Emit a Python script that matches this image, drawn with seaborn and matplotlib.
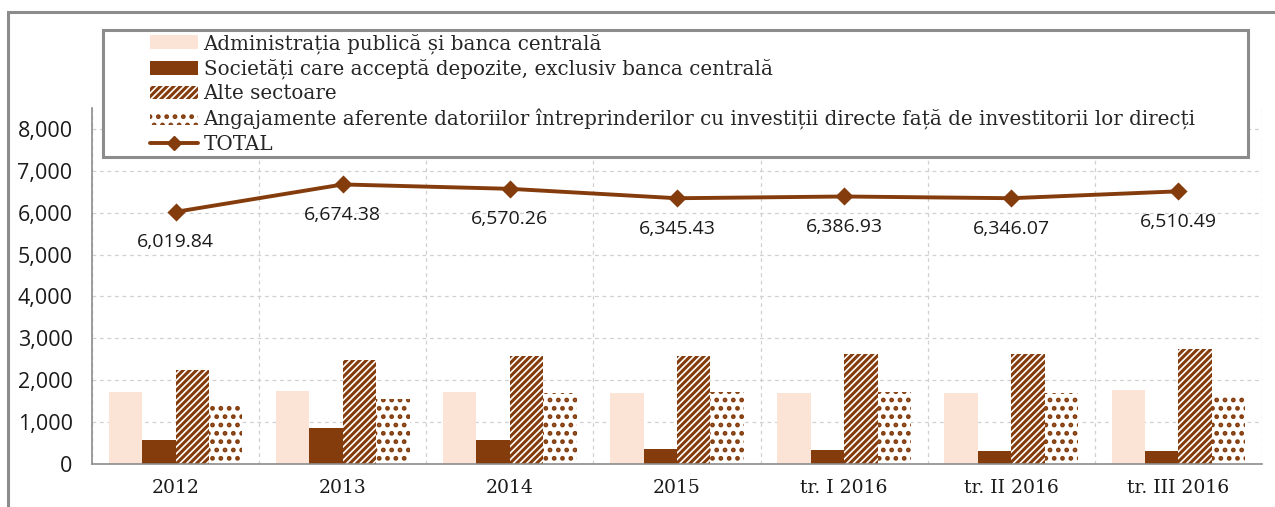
import matplotlib
matplotlib.use("Agg")
import matplotlib.pyplot as plt
import seaborn as sns
import pandas as pd
import numpy as np
from matplotlib.patches import Patch, Rectangle
from matplotlib.lines import Line2D

# Date (mil. USD)
perioade = ["2012", "2013", "2014", "2015", "tr. I 2016", "tr. II 2016", "tr. III 2016"]
administratie = [1730, 1750, 1710, 1700, 1700, 1700, 1770]
societati = [580, 850, 580, 350, 340, 320, 300]
alte_sectoare = [2250, 2480, 2570, 2590, 2630, 2630, 2740]
angajamente = [1450, 1560, 1700, 1710, 1720, 1690, 1680]
total = [6019.84, 6674.38, 6570.26, 6345.43, 6386.93, 6346.07, 6510.49]

serii = [
    "Administrația publică și banca centrală",
    "Societăți care acceptă depozite, exclusiv banca centrală",
    "Alte sectoare",
    "Angajamente aferente datoriilor întreprinderilor cu investiții directe față de investitorii lor direcți",
]

MARO = "#843C0C"
ROZ = "#FBE4D5"
GRI = "#8C8C8C"

sns.set_style("white")
plt.rcParams["font.family"] = ["Open Sans", "DejaVu Sans"]
plt.rcParams["hatch.linewidth"] = 2.2

df = pd.DataFrame({
    "perioada": perioade * 4,
    "sector": np.repeat(serii, len(perioade)),
    "valoare": administratie + societati + alte_sectoare + angajamente,
})

fig = plt.figure(figsize=(12.75, 5.07), dpi=100)
ax = fig.add_axes([0.0722, 0.0848, 0.9176, 0.7022])

sns.barplot(data=df, x="perioada", y="valoare", hue="sector", hue_order=serii,
            palette=[ROZ, MARO, "white", "white"], width=0.8, saturation=1,
            errorbar=None, legend=False, ax=ax)

stiluri = [
    dict(facecolor=ROZ, edgecolor=ROZ, hatch=None),
    dict(facecolor=MARO, edgecolor=MARO, hatch=None),
    dict(facecolor="white", edgecolor=MARO, hatch="/////"),
    dict(facecolor="white", edgecolor=MARO, hatch=".."),
]
for cont, st in zip(ax.containers, stiluri):
    for bar in cont:
        bar.set_facecolor(st["facecolor"])
        bar.set_edgecolor(st["edgecolor"])
        bar.set_linewidth(0)
        if st["hatch"]:
            bar.set_hatch(st["hatch"])

sns.pointplot(x=perioade, y=total, color=MARO, markers="D", markersize=7,
              linewidth=2.8, errorbar=None, ax=ax)

for i, v in enumerate(total):
    ax.annotate(f"{v:,.2f}", (i, v), xytext=(0, -22), textcoords="offset points",
                ha="center", va="center", fontsize=14, color="#1a1a1a")

ax.set_ylim(0, 8500)
ax.set_xlim(-0.5, len(perioade) - 0.5)
ax.set_yticks(range(0, 8001, 1000))
ax.set_yticklabels([f"{t:,}" for t in range(0, 8001, 1000)])
ax.set_xlabel("")
ax.set_ylabel("")
ax.set_xticks(np.arange(-0.5, len(perioade), 1), minor=True)
ax.tick_params(axis="x", which="major", length=0, labelsize=13.5, pad=11, colors="#1a1a1a")
for lbl in ax.get_xticklabels():
    lbl.set_family("DejaVu Serif")
ax.tick_params(axis="x", which="minor", length=6, color=GRI, direction="out")
ax.tick_params(axis="y", length=5, labelsize=15.5, colors="#1a1a1a", direction="out", pad=9)
ax.tick_params(axis="y", color=GRI)
ax.grid(axis="y", which="major", linestyle=(0, (3, 3)), color="#d0d0d0", lw=0.9)
ax.grid(axis="x", which="minor", linestyle=(0, (3, 3)), color="#d0d0d0", lw=0.9)
ax.set_axisbelow(True)
for s in ["top", "right"]:
    ax.spines[s].set_visible(False)
for s in ["left", "bottom"]:
    ax.spines[s].set_color(GRI)
    ax.spines[s].set_linewidth(1.2)

# cadrul exterior
fig.add_artist(Rectangle((8 / 1275, -0.1), 1.5, 1 - 12 / 507 + 0.1, transform=fig.transFigure,
                         fill=False, edgecolor=GRI, lw=2.2, zorder=0))

# legenda
handles = [
    Patch(facecolor=ROZ, edgecolor=ROZ, lw=0),
    Patch(facecolor=MARO, edgecolor=MARO, lw=0),
    Patch(facecolor="white", edgecolor=MARO, hatch="/////", lw=0),
    Patch(facecolor="white", edgecolor=MARO, hatch="..", lw=0),
    Line2D([], [], color=MARO, lw=2.8, marker="D", markersize=7),
]
labels = serii + ["TOTAL"]
fig.add_artist(Rectangle((103 / 1275, 1 - 157 / 507), (1248 - 103) / 1275, 127 / 507,
                         transform=fig.transFigure, facecolor="white", edgecolor=GRI,
                         lw=2.2, zorder=5))
leg = fig.legend(handles, labels, loc="upper left", bbox_to_anchor=(148 / 1275, 1 - 31 / 507),
                 frameon=False, prop={"family": "DejaVu Serif", "size": 14.3},
                 handlelength=2.4, handleheight=0.7, handletextpad=0.3, labelspacing=0.26,
                 borderaxespad=0, borderpad=0.1)
leg.set_zorder(6)

fig.savefig("out.png", dpi=100)
